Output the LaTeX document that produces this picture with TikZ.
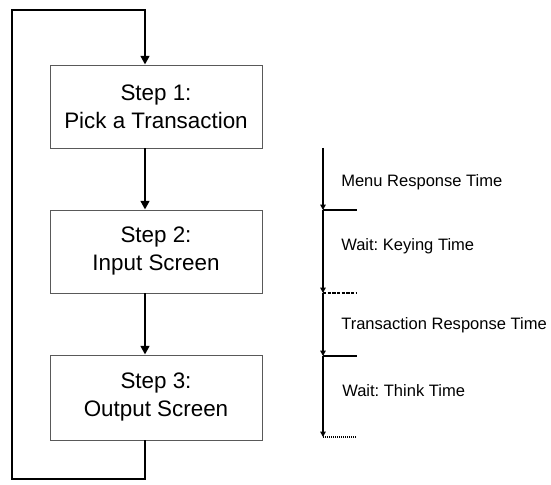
\documentclass[tikz,border=0pt]{standalone}
\usepackage{fontspec}
\setmainfont{Liberation Sans}
\frenchspacing
\usetikzlibrary{arrows.meta,calc}
\tikzset{
  stepbox/.style={draw=black!65,line width=0.7pt,minimum width=159pt,align=center,font=\fontsize{16.8}{21}\selectfont},
  flow/.style={line width=1.8pt,-{Triangle[length=6.5pt,width=6.5pt]}},
  tline/.style={line width=1.1pt,-{Triangle[length=4pt,width=4pt]}},
  tick/.style={line width=1pt},
  tlabel/.style={anchor=west,inner sep=0pt,font=\fontsize{12.4}{14}\selectfont}
}
\begin{document}
\begin{tikzpicture}[x=0.75pt,y=0.75pt,yscale=-1,xscale=1]
\useasboundingbox (0,0) rectangle (551,485);
\coordinate (spine) at (145,0);
\node [stepbox,minimum height=62.25pt] (box1) at (156,106.5) {Step 1:\\Pick a Transaction};
\node [stepbox,minimum height=62.25pt] (box2) at (156,251.5) {Step 2:\\Input Screen};
\node [stepbox,minimum height=63.75pt] (box3) at (156,397.5) {Step 3:\\Output Screen};
\coordinate (loopbr) at (145,479);
\coordinate (loopbl) at (12,479);
\coordinate (looptl) at (12,10);
\coordinate (looptr) at (145,10);
\draw [flow] (box1.south -| spine) -- (box2.north -| spine);
\draw [flow] (box2.south -| spine) -- (box3.north -| spine);
\draw [flow] (box3.south -| spine) -- (loopbr) -- (loopbl) -- (looptl) -- (looptr) -- (box1.north -| spine);
\coordinate (t0) at (323,148);
\coordinate (t1) at (323,210);
\coordinate (t2) at (323,293);
\coordinate (t3) at (323,356);
\coordinate (t4) at (323,437);
\draw [tline] (t0) -- (t1);
\draw [tline] (t1) -- (t2);
\draw [tline] (t2) -- (t3);
\draw [tline] (t3) -- (t4);
\draw [tick] (t1) -- ++(34,0);
\draw [tick,dash pattern={on 2.5pt off 1pt}] (t2) -- ++(34,0);
\draw [tick] (t3) -- ++(34,0);
\draw [tick,dash pattern={on 1pt off 0.5pt}] (t4) -- ++(34,0);
\node [tlabel] (menu) at (341,182) {Menu Response Time};
\node [tlabel] (keying) at (341,246) {Wait: Keying Time};
\node [tlabel] (trans) at (341,325) {Transaction Response Time};
\node [tlabel] (think) at (342,391) {Wait: Think Time};
\end{tikzpicture}
\end{document}
